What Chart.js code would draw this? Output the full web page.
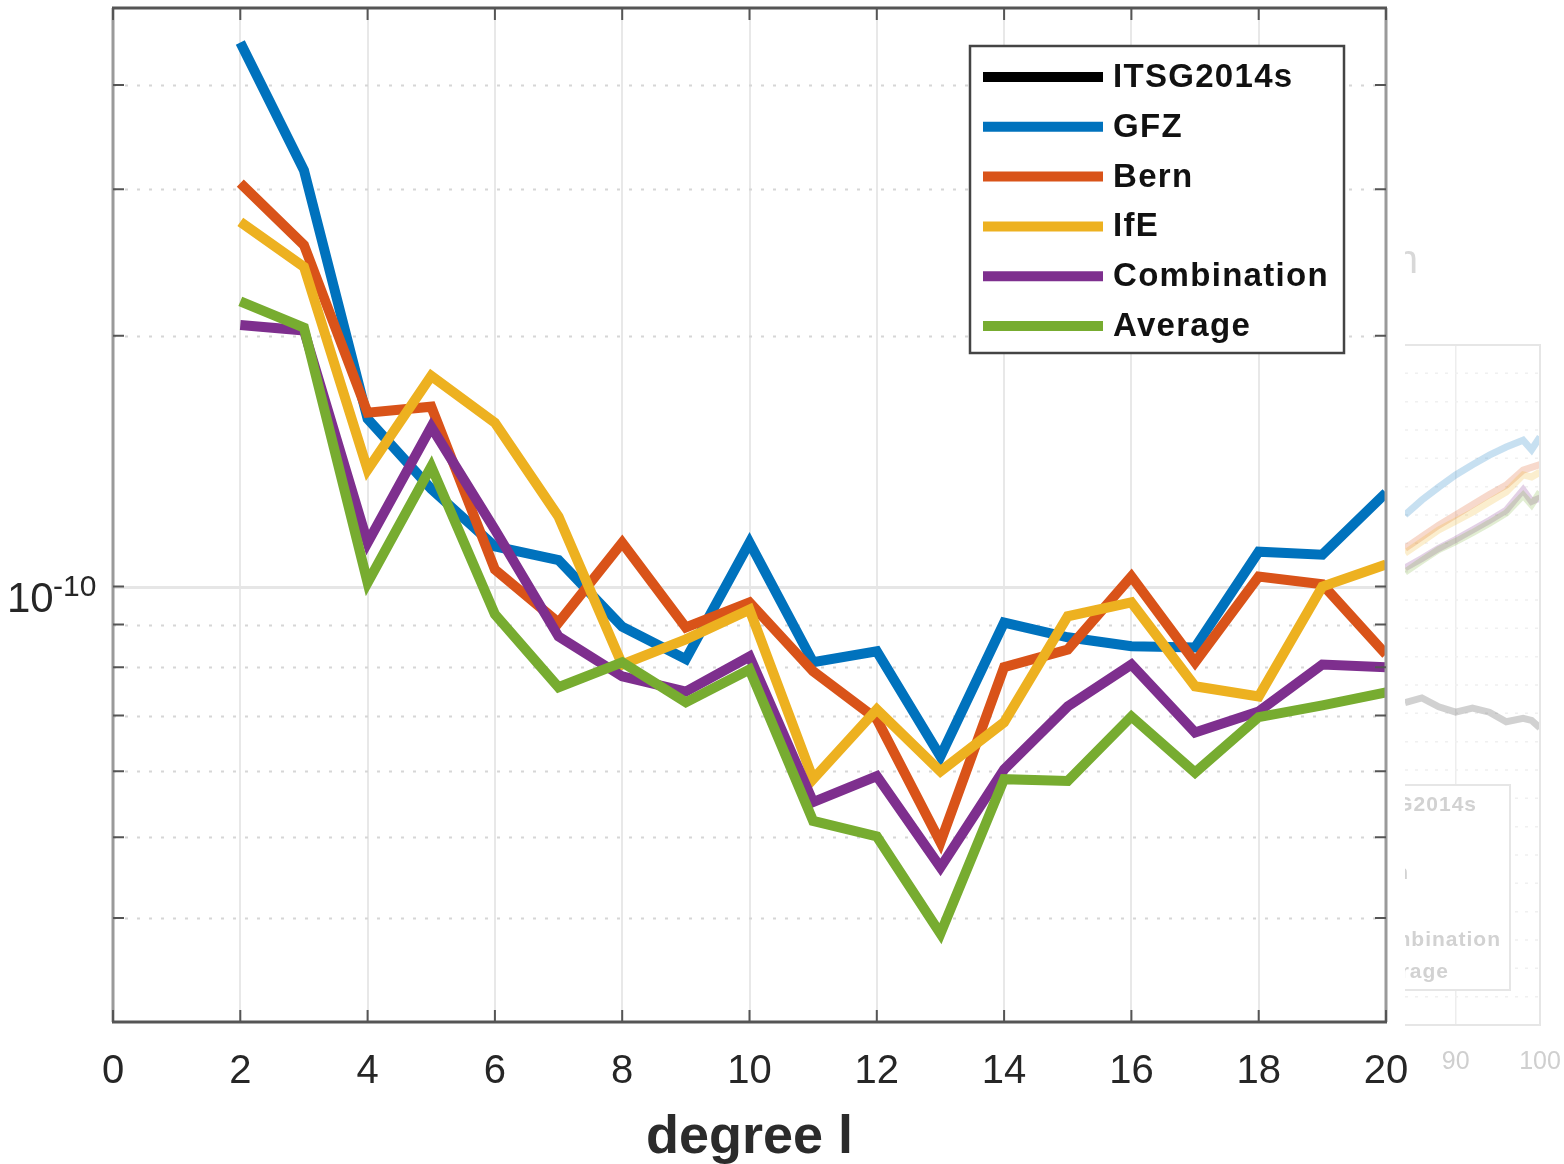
<!DOCTYPE html>
<html>
<head>
<meta charset="utf-8">
<title>Degree variances</title>
<script src="https://cdn.jsdelivr.net/npm/chart.js@4.4.1/dist/chart.umd.min.js"></script>
<style>
  html, body { margin: 0; padding: 0; background: #fff; }
  #wrap { position: relative; width: 1564px; height: 1164px; overflow: hidden; }
  #chart { position: absolute; left: 0; top: 0; }
  #faded { position: absolute; left: 1405px; top: 0; }
</style>
</head>
<body>
<div id="wrap">
  <canvas id="faded" width="159" height="1164"></canvas>
  <canvas id="chart" width="1564" height="1164"></canvas>
</div>
<script>
// ---------- data ----------
const degrees = [2, 3, 4, 5, 6, 7, 8, 9, 10, 11, 12, 13, 14, 15, 16, 17, 18, 19, 20];
const seriesNames = ["ITSG2014s", "GFZ", "Bern", "IfE", "Combination", "Average"];
const seriesColors = ["#000000", "#0072BD", "#D95319", "#EDB120", "#7E2F8E", "#77AC30"];

// ITSG2014s lies below the plotted range, only its legend entry is visible
const itsg2014s = [];
const gfz = [4.50e-10, 3.16e-10, 1.59e-10, 1.31e-10, 1.117e-10, 1.076e-10, 0.895e-10, 0.818e-10, 1.129e-10, 0.811e-10,
             0.836e-10, 0.625e-10, 0.905e-10, 0.869e-10, 0.848e-10, 0.845e-10, 1.101e-10, 1.092e-10, 1.296e-10];
const bern = [3.05e-10, 2.57e-10, 1.617e-10, 1.644e-10, 1.048e-10, 0.905e-10, 1.129e-10, 0.893e-10, 0.957e-10, 0.791e-10,
              0.693e-10, 0.493e-10, 0.800e-10, 0.840e-10, 1.028e-10, 0.811e-10, 1.028e-10, 1.006e-10, 0.829e-10];
const ife = [2.74e-10, 2.42e-10, 1.381e-10, 1.79e-10, 1.573e-10, 1.213e-10, 0.806e-10, 0.864e-10, 0.938e-10, 0.587e-10,
             0.712e-10, 0.600e-10, 0.687e-10, 0.921e-10, 0.957e-10, 0.759e-10, 0.738e-10, 1.000e-10, 1.063e-10];
const combination = [2.06e-10, 2.03e-10, 1.129e-10, 1.555e-10, 1.17e-10, 0.871e-10, 0.780e-10, 0.748e-10, 0.824e-10, 0.551e-10,
                     0.592e-10, 0.460e-10, 0.603e-10, 0.718e-10, 0.806e-10, 0.668e-10, 0.708e-10, 0.806e-10, 0.800e-10];
const average = [2.20e-10, 2.045e-10, 1.011e-10, 1.393e-10, 0.926e-10, 0.757e-10, 0.811e-10, 0.726e-10, 0.795e-10, 0.523e-10,
                 0.501e-10, 0.383e-10, 0.587e-10, 0.584e-10, 0.698e-10, 0.598e-10, 0.697e-10, 0.720e-10, 0.746e-10];

const xTicks = [0, 2, 4, 6, 8, 10, 12, 14, 16, 18, 20];
const yGridValues = [4e-11, 5e-11, 6e-11, 7e-11, 8e-11, 9e-11, 1e-10, 2e-10, 3e-10, 4e-10];
const yLabelValue = 1e-10;

// faded neighbouring figure, cut off at the right edge (arbitrary units)
const fadedX = [84, 86, 88, 90, 92, 94, 96, 98, 99, 100];
const fadedGfz = [75.0, 77.2, 79.1, 80.9, 82.4, 83.8, 85.0, 86.0, 84.6, 86.5];
const fadedBern = [70.1, 71.8, 73.5, 75.0, 76.5, 78.0, 79.4, 81.6, 82.0, 82.4];
const fadedIfe = [69.4, 71.1, 72.8, 74.1, 75.4, 76.9, 78.4, 80.9, 80.6, 81.3];
const fadedCombination = [67.2, 68.6, 70.1, 71.4, 72.8, 74.2, 75.7, 78.7, 77.0, 77.5];
const fadedAverage = [66.6, 68.3, 69.9, 71.1, 72.4, 73.8, 75.3, 77.9, 76.5, 78.4];
const fadedItsg = [47.4, 48.1, 46.8, 46.0, 46.6, 46.0, 44.6, 45.1, 44.8, 43.7];
const fadedXTicks = [90, 100];

const FONT = "'Liberation Sans', Arial, Helvetica, sans-serif";

// ---------- helpers ----------
function toPoints(xs, values) {
  return values.map((v, i) => ({ x: xs[i], y: v }));
}

function fade(hex, alpha) {
  const n = parseInt(hex.slice(1), 16);
  return `rgba(${(n >> 16) & 255}, ${(n >> 8) & 255}, ${n & 255}, ${alpha})`;
}

const allSeries = [itsg2014s, gfz, bern, ife, combination, average];

const datasets = allSeries.map((vals, i) => ({
  label: seriesNames[i],
  data: toPoints(degrees, vals),
  borderColor: seriesColors[i],
  backgroundColor: seriesColors[i],
  borderWidth: 10,
  pointRadius: 0,
  tension: 0,
  fill: false,
  // later series are painted on top, as in the original figure
  order: allSeries.length - i
}));

// ---------- plugins ----------
const gridPlugin = {
  id: "logGrid",
  beforeDatasetsDraw(chart) {
    const { ctx, chartArea: a, scales: { y } } = chart;
    ctx.save();
    yGridValues.forEach(v => {
      const py = Math.round(y.getPixelForValue(v)) + 0.5;
      ctx.beginPath();
      if (v === yLabelValue) {
        ctx.setLineDash([]);
        ctx.strokeStyle = "#e6e6e6";
        ctx.lineWidth = 3;
      } else {
        ctx.setLineDash([3, 9]);
        ctx.strokeStyle = "#d6d6d6";
        ctx.lineWidth = 2;
      }
      ctx.moveTo(a.left, py);
      ctx.lineTo(a.right, py);
      ctx.stroke();
    });
    ctx.restore();
  }
};

const framePlugin = {
  id: "frame",
  afterDatasetsDraw(chart) {
    const { ctx, chartArea: a, scales: { x, y } } = chart;
    ctx.save();
    ctx.setLineDash([]);
    // box
    ctx.lineWidth = 3;
    ctx.strokeStyle = "#9a9a9a";
    ctx.beginPath();
    ctx.moveTo(a.left, a.top); ctx.lineTo(a.left, a.bottom);
    ctx.moveTo(a.right, a.top); ctx.lineTo(a.right, a.bottom);
    ctx.stroke();
    ctx.strokeStyle = "#555";
    ctx.beginPath();
    ctx.moveTo(a.left - 1, a.top); ctx.lineTo(a.right + 1, a.top);
    ctx.moveTo(a.left - 1, a.bottom); ctx.lineTo(a.right + 1, a.bottom);
    ctx.stroke();
    // inward ticks
    ctx.lineWidth = 2;
    ctx.strokeStyle = "#555";
    ctx.beginPath();
    xTicks.forEach(t => {
      const px = x.getPixelForValue(t);
      ctx.moveTo(px, a.bottom); ctx.lineTo(px, a.bottom - 12);
      ctx.moveTo(px, a.top); ctx.lineTo(px, a.top + 12);
    });
    yGridValues.forEach(v => {
      const py = y.getPixelForValue(v);
      ctx.moveTo(a.left, py); ctx.lineTo(a.left + 11, py);
      ctx.moveTo(a.right, py); ctx.lineTo(a.right - 11, py);
    });
    ctx.stroke();

    // y label 10^-10
    const py = y.getPixelForValue(yLabelValue);
    ctx.fillStyle = "#262626";
    ctx.textBaseline = "alphabetic";
    ctx.textAlign = "left";
    ctx.font = "42px " + FONT;
    ctx.fillText("10", 7, py + 25);
    ctx.font = "30px " + FONT;
    ctx.fillText("-10", 53, py + 9);
    ctx.restore();
  }
};

const legendPlugin = {
  id: "boxLegend",
  afterDraw(chart) {
    const { ctx } = chart;
    const box = { x: 970, y: 46, w: 374, h: 307 };
    ctx.save();
    ctx.fillStyle = "#fff";
    ctx.fillRect(box.x, box.y, box.w, box.h);
    ctx.strokeStyle = "#444";
    ctx.lineWidth = 2.5;
    ctx.strokeRect(box.x, box.y, box.w, box.h);
    ctx.font = "bold 33px " + FONT;
    ctx.letterSpacing = "1.3px";
    ctx.textBaseline = "middle";
    ctx.textAlign = "left";
    chart.data.datasets.forEach((ds, i) => {
      const ry = box.y + 31 + i * 49.8;
      ctx.strokeStyle = ds.borderColor;
      ctx.lineWidth = 10;
      ctx.beginPath();
      ctx.moveTo(983, ry);
      ctx.lineTo(1103, ry);
      ctx.stroke();
      ctx.fillStyle = "#111";
      ctx.fillText(ds.label, 1113, ry + 1);
    });
    ctx.restore();
  }
};

// ---------- main chart ----------
new Chart(document.getElementById("chart"), {
  type: "line",
  data: { datasets },
  options: {
    responsive: false,
    animation: false,
    devicePixelRatio: 1,
    layout: { padding: { left: 0, top: 8, right: 178, bottom: 0 } },
    plugins: {
      legend: { display: false },
      tooltip: { enabled: false }
    },
    scales: {
      x: {
        type: "linear",
        min: 0,
        max: 20,
        afterBuildTicks: scale => { scale.ticks = xTicks.map(v => ({ value: v })); },
        afterFit: scale => { scale.height = 142; },
        grid: { color: "#e8e8e8", lineWidth: 2, drawTicks: false },
        border: { display: false },
        ticks: {
          padding: 26,
          color: "#262626",
          maxRotation: 0,
          autoSkip: false,
          font: { family: FONT, size: 40 }
        },
        title: {
          display: true,
          text: "degree l",
          color: "#2b2b2b",
          padding: { top: 0, bottom: 0 },
          font: { family: FONT, size: 54, weight: "bold", lineHeight: 0.95 }
        }
      },
      y: {
        type: "logarithmic",
        min: 3e-11,
        max: 4.95e-10,
        afterFit: scale => { scale.width = 113; },
        grid: { display: false },
        border: { display: false },
        ticks: { display: false }
      }
    }
  },
  plugins: [gridPlugin, framePlugin, legendPlugin]
});

// ---------- faded neighbouring figure ----------
const fadedSeries = [fadedItsg, fadedGfz, fadedBern, fadedIfe, fadedCombination, fadedAverage];
const fadedDatasets = fadedSeries.map((vals, i) => ({
  label: seriesNames[i],
  data: toPoints(fadedX, vals),
  borderColor: i === 0 ? "rgba(0,0,0,0.18)" : fade(seriesColors[i], 0.22),
  borderWidth: 7,
  pointRadius: 0,
  tension: 0,
  order: fadedSeries.length - i
}));

const fadedDecor = {
  id: "fadedDecor",
  beforeDatasetsDraw(chart) {
    const { ctx, chartArea: a } = chart;
    ctx.save();
    ctx.strokeStyle = "#f0f0f0";
    ctx.lineWidth = 1.5;
    ctx.setLineDash([3, 7]);
    for (let i = 1; i < 24; i++) {
      const py = a.top + i * (a.bottom - a.top) / 24;
      ctx.beginPath(); ctx.moveTo(a.left, py); ctx.lineTo(a.right, py); ctx.stroke();
    }
    ctx.restore();
  },
  afterDatasetsDraw(chart) {
    const { ctx, chartArea: a } = chart;
    ctx.save();
    ctx.strokeStyle = "#e6e6e6";
    ctx.lineWidth = 2;
    ctx.beginPath();
    ctx.moveTo(a.left, a.top); ctx.lineTo(a.right, a.top); ctx.lineTo(a.right, a.bottom); ctx.lineTo(a.left, a.bottom);
    ctx.stroke();
    // faded legend box
    ctx.fillStyle = "#fff";
    ctx.fillRect(-10, 785, 115, 205);
    ctx.strokeRect(-10, 785, 115, 205);
    ctx.fillStyle = "#d2d2d2";
    ctx.font = "bold 21px " + FONT;
    ctx.letterSpacing = "1px";
    ctx.textAlign = "right";
    ctx.textBaseline = "middle";
    ctx.fillText("ITSG2014s", 72, 805);
    ctx.fillText("Bern", 4, 873);
    ctx.fillText("Combination", 96, 940);
    ctx.fillText("Average", 44, 972);
    // title fragment
    ctx.font = "40px " + FONT;
    ctx.fillStyle = "#d8d8d8";
    ctx.fillText("tion", 14, 262);
    ctx.restore();
  }
};

new Chart(document.getElementById("faded"), {
  type: "line",
  data: { datasets: fadedDatasets },
  options: {
    responsive: false,
    animation: false,
    devicePixelRatio: 1,
    layout: { padding: { left: 0, top: 345, right: 24, bottom: 0 } },
    plugins: { legend: { display: false }, tooltip: { enabled: false } },
    scales: {
      x: {
        type: "linear",
        min: 84,
        max: 100,
        afterBuildTicks: scale => { scale.ticks = fadedXTicks.map(v => ({ value: v })); },
        afterFit: scale => {
          scale.height = 139;
          scale.paddingLeft = 0;
          scale.paddingRight = 0;
        },
        grid: { color: "#ededed", lineWidth: 1.5, drawTicks: false },
        border: { display: false },
        ticks: { padding: 22, color: "#cfcfcf", font: { family: FONT, size: 25 } }
      },
      y: {
        type: "linear",
        min: 0,
        max: 100,
        display: false
      }
    }
  },
  plugins: [fadedDecor]
});
</script>
</body>
</html>
